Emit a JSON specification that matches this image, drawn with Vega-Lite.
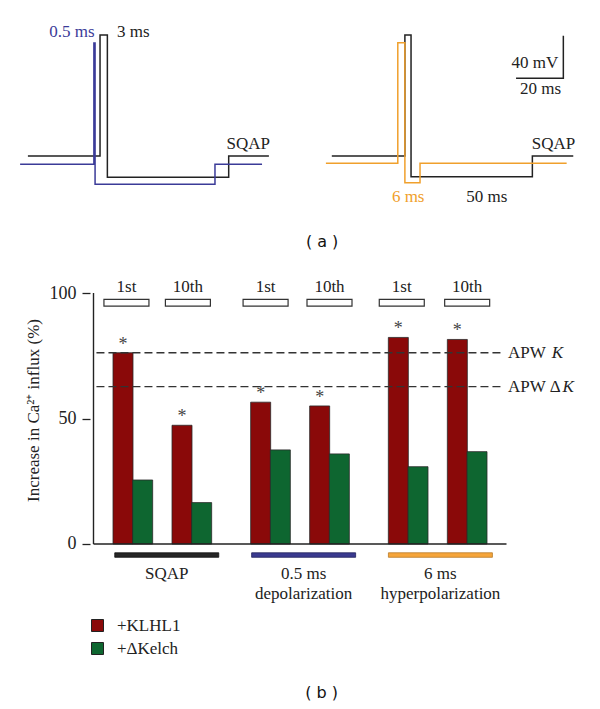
{
  "$schema": "https://vega.github.io/schema/vega-lite/v6.json",
  "background": "white",
  "padding": 0,
  "bounds": "flush",
  "spacing": 0,
  "resolve": {"scale": {"color": "independent"}, "legend": {"color": "independent"}},
  "config": {"view": {"stroke": null}, "font": "Liberation Serif"},
  "datasets": {
    "traces": [
      {"id": "L-SQAP", "trace": "SQAP", "i": 0, "t": 11.8, "mv": -70},
      {"id": "L-SQAP", "trace": "SQAP", "i": 1, "t": 42.3, "mv": -70},
      {"id": "L-SQAP", "trace": "SQAP", "i": 2, "t": 42.3, "mv": 43.6},
      {"id": "L-SQAP", "trace": "SQAP", "i": 3, "t": 45.4, "mv": 43.6},
      {"id": "L-SQAP", "trace": "SQAP", "i": 4, "t": 45.4, "mv": -90.0},
      {"id": "L-SQAP", "trace": "SQAP", "i": 5, "t": 96.7, "mv": -90.0},
      {"id": "L-SQAP", "trace": "SQAP", "i": 6, "t": 96.7, "mv": -70},
      {"id": "L-SQAP", "trace": "SQAP", "i": 7, "t": 113.7, "mv": -70},
      {"id": "R-SQAP", "trace": "SQAP", "i": 0, "t": 140.3, "mv": -70},
      {"id": "R-SQAP", "trace": "SQAP", "i": 1, "t": 171.2, "mv": -70},
      {"id": "R-SQAP", "trace": "SQAP", "i": 2, "t": 171.2, "mv": 43.6},
      {"id": "R-SQAP", "trace": "SQAP", "i": 3, "t": 173.8, "mv": 43.6},
      {"id": "R-SQAP", "trace": "SQAP", "i": 4, "t": 173.8, "mv": -89.4},
      {"id": "R-SQAP", "trace": "SQAP", "i": 5, "t": 225.1, "mv": -89.4},
      {"id": "R-SQAP", "trace": "SQAP", "i": 6, "t": 225.1, "mv": -70},
      {"id": "R-SQAP", "trace": "SQAP", "i": 7, "t": 242.4, "mv": -70},
      {"id": "scalebar", "trace": "scale", "i": 0, "t": 218.2, "mv": 3.0},
      {"id": "scalebar", "trace": "scale", "i": 1, "t": 238.2, "mv": 3.0},
      {"id": "scalebar", "trace": "scale", "i": 2, "t": 238.2, "mv": 43.0},
      {"id": "L-depol", "trace": "depol", "i": 0, "t": 8.5, "mv": -77.8},
      {"id": "L-depol", "trace": "depol", "i": 1, "t": 39.7, "mv": -77.8},
      {"id": "L-depol", "trace": "depol", "i": 2, "t": 39.7, "mv": 36.1},
      {"id": "L-depol", "trace": "depol", "i": 3, "t": 40.2, "mv": 36.1},
      {"id": "L-depol", "trace": "depol", "i": 4, "t": 40.2, "mv": -96.6},
      {"id": "L-depol", "trace": "depol", "i": 5, "t": 90.9, "mv": -96.6},
      {"id": "L-depol", "trace": "depol", "i": 6, "t": 90.9, "mv": -77.8},
      {"id": "L-depol", "trace": "depol", "i": 7, "t": 110.8, "mv": -77.8},
      {"id": "R-hyper", "trace": "hyper", "i": 0, "t": 137.8, "mv": -76.9},
      {"id": "R-hyper", "trace": "hyper", "i": 1, "t": 168.2, "mv": -76.9},
      {"id": "R-hyper", "trace": "hyper", "i": 2, "t": 168.2, "mv": 36.4},
      {"id": "R-hyper", "trace": "hyper", "i": 3, "t": 171.2, "mv": 36.4},
      {"id": "R-hyper", "trace": "hyper", "i": 4, "t": 171.2, "mv": -95.1},
      {"id": "R-hyper", "trace": "hyper", "i": 5, "t": 177.6, "mv": -95.1},
      {"id": "R-hyper", "trace": "hyper", "i": 6, "t": 177.6, "mv": -76.9},
      {"id": "R-hyper", "trace": "hyper", "i": 7, "t": 239.6, "mv": -76.9}
    ],
    "traceLabels": [
      {"label": "0.5 ms", "trace": "depol", "t": 30.4, "mv": 46.7},
      {"label": "3 ms", "trace": "SQAP", "t": 56.4, "mv": 46.7},
      {"label": "SQAP", "trace": "SQAP", "t": 105.0, "mv": -58.7},
      {"label": "6 ms", "trace": "hyper", "t": 172.6, "mv": -108.2},
      {"label": "50 ms", "trace": "SQAP", "t": 205.8, "mv": -108.2},
      {"label": "SQAP", "trace": "SQAP", "t": 234.0, "mv": -58.7},
      {"label": "40 mV", "trace": "scale", "t": 226.2, "mv": 17.0},
      {"label": "20 ms", "trace": "scale", "t": 228.6, "mv": -7.4}
    ],
    "bars": [
      {"cond": "SQAP", "pulse": "1st", "series": "+KLHL1", "pos": 1.5, "value": 76.2},
      {"cond": "SQAP", "pulse": "1st", "series": "+ΔKelch", "pos": 2.5, "value": 25.5},
      {"cond": "SQAP", "pulse": "10th", "series": "+KLHL1", "pos": 4.5, "value": 47.3},
      {"cond": "SQAP", "pulse": "10th", "series": "+ΔKelch", "pos": 5.5, "value": 16.5},
      {"cond": "depol", "pulse": "1st", "series": "+KLHL1", "pos": 8.5, "value": 56.5},
      {"cond": "depol", "pulse": "1st", "series": "+ΔKelch", "pos": 9.5, "value": 37.5},
      {"cond": "depol", "pulse": "10th", "series": "+KLHL1", "pos": 11.5, "value": 55.0},
      {"cond": "depol", "pulse": "10th", "series": "+ΔKelch", "pos": 12.5, "value": 35.9},
      {"cond": "hyper", "pulse": "1st", "series": "+KLHL1", "pos": 15.5, "value": 82.3},
      {"cond": "hyper", "pulse": "1st", "series": "+ΔKelch", "pos": 16.5, "value": 30.8},
      {"cond": "hyper", "pulse": "10th", "series": "+KLHL1", "pos": 18.5, "value": 81.5},
      {"cond": "hyper", "pulse": "10th", "series": "+ΔKelch", "pos": 19.5, "value": 36.8}
    ],
    "pulses": [
      {"cond": "SQAP", "pulse": "1st", "pos": 1.675},
      {"cond": "SQAP", "pulse": "10th", "pos": 4.8},
      {"cond": "depol", "pulse": "1st", "pos": 8.75},
      {"cond": "depol", "pulse": "10th", "pos": 12.0},
      {"cond": "hyper", "pulse": "1st", "pos": 15.675},
      {"cond": "hyper", "pulse": "10th", "pos": 19.0}
    ],
    "conds": [
      {"cond": "SQAP", "label": "SQAP", "pos": 3.725},
      {"cond": "depol", "label": "0.5 ms\ndepolarization", "pos": 10.685},
      {"cond": "hyper", "label": "6 ms\nhyperpolarization", "pos": 17.64}
    ],
    "apw": [
      {"line": "K", "value": 76.2},
      {"line": "ΔK", "value": 62.7}
    ]
  },
  "vconcat": [
    {
      "width": 600,
      "height": 260,
      "layer": [
        {
          "data": {"name": "traces"},
          "mark": {"type": "line", "strokeWidth": 1.5, "strokeJoin": "miter"},
          "encoding": {
            "x": {"field": "t", "type": "quantitative", "scale": {"domain": [0, 253.7], "nice": false, "zero": false}, "axis": null},
            "y": {"field": "mv", "type": "quantitative", "scale": {"domain": [-167.65, 76.48], "nice": false, "zero": false}, "axis": null},
            "color": {"field": "trace", "type": "nominal", "scale": {"domain": ["SQAP", "depol", "hyper", "scale"], "range": ["#222222", "#3b3b98", "#f0a02c", "#222222"]}, "legend": null},
            "detail": {"field": "id"},
            "order": {"field": "i", "type": "quantitative"}
          }
        },
        {
          "data": {"name": "traceLabels"},
          "mark": {"type": "text", "font": "Liberation Serif", "fontSize": 17, "align": "center", "baseline": "middle"},
          "encoding": {
            "x": {"field": "t", "type": "quantitative"},
            "y": {"field": "mv", "type": "quantitative"},
            "color": {"field": "trace", "type": "nominal"},
            "text": {"field": "label"}
          }
        },
        {
          "data": {"values": [{"caption": "( a )"}]},
          "mark": {"type": "text", "font": "DejaVu Sans", "fontSize": 16, "align": "center", "baseline": "middle", "color": "#111"},
          "encoding": {
            "x": {"datum": 136.2, "type": "quantitative"},
            "y": {"datum": -150.3, "type": "quantitative"},
            "text": {"field": "caption"}
          }
        }
      ]
    },
    {
      "width": 600,
      "height": 449,
      "layer": [
        {
          "data": {"name": "bars"},
          "mark": {"type": "bar", "orient": "vertical", "width": 20, "stroke": "#2a2a2a", "strokeWidth": 0.8},
          "encoding": {
            "x": {"field": "pos", "type": "quantitative", "scale": {"domain": [-4.5, 25.5], "nice": false, "zero": false}, "axis": null},
            "y": {
              "field": "value", "type": "quantitative", "stack": null,
              "scale": {"domain": [-65.74, 113.15], "nice": false, "zero": false},
              "axis": {
                "values": [0, 50, 100], "domain": false, "grid": false, "offset": -90,
                "tickSize": 8, "tickColor": "#222", "tickWidth": 1.3,
                "labelFont": "Liberation Serif", "labelFontSize": 18, "labelColor": "#222", "labelPadding": 6,
                "title": "Increase in Ca²⁺ influx (%)",
                "titleFont": "Liberation Serif", "titleFontSize": 17, "titleFontWeight": "normal", "titleColor": "#222",
                "titleX": -57, "titleY": 150, "titleAngle": -90, "titleAlign": "center", "titleBaseline": "middle"
              }
            },
            "color": {
              "field": "series", "type": "nominal",
              "scale": {"domain": ["+KLHL1", "+ΔKelch"], "range": ["#8a0909", "#0e6630"]},
              "legend": {
                "orient": "none", "legendX": 89, "legendY": 357, "title": null,
                "symbolType": "square", "symbolSize": 144, "symbolStrokeColor": "#222", "symbolStrokeWidth": 1,
                "labelFont": "Liberation Serif", "labelFontSize": 17, "labelColor": "#222", "labelOffset": 11, "rowPadding": 5
              }
            }
          }
        },
        {
          "data": {"name": "apw"},
          "mark": {"type": "rule", "stroke": "#333", "strokeWidth": 1.3, "strokeDash": [8, 4]},
          "encoding": {
            "x": {"datum": 0.15, "type": "quantitative"},
            "x2": {"datum": 20.85},
            "y": {"field": "value", "type": "quantitative"}
          }
        },
        {
          "data": {"name": "bars"},
          "transform": [{"filter": "datum.series == '+KLHL1'"}],
          "mark": {"type": "text", "font": "Liberation Serif", "fontSize": 18, "align": "center", "baseline": "alphabetic", "dy": -3, "color": "#444"},
          "encoding": {
            "x": {"field": "pos", "type": "quantitative"},
            "y": {"field": "value", "type": "quantitative"},
            "text": {"value": "*"}
          }
        },
        {
          "data": {"values": [{"k": 1}]},
          "mark": {"type": "rule", "stroke": "#222", "strokeWidth": 1.4},
          "encoding": {"x": {"datum": 0, "type": "quantitative"}, "y": {"datum": 0, "type": "quantitative"}, "y2": {"datum": 100}}
        },
        {
          "data": {"values": [{"k": 1}]},
          "mark": {"type": "rule", "stroke": "#222", "strokeWidth": 1.4},
          "encoding": {"x": {"datum": 0, "type": "quantitative"}, "x2": {"datum": 21}, "y": {"datum": 0, "type": "quantitative"}}
        },
        {
          "data": {"name": "pulses"},
          "mark": {"type": "bar", "orient": "vertical", "width": 45, "fill": "white", "stroke": "#333", "strokeWidth": 1.2},
          "encoding": {
            "x": {"field": "pos", "type": "quantitative"},
            "y": {"datum": 94.8, "type": "quantitative"},
            "y2": {"datum": 97.5}
          }
        },
        {
          "data": {"name": "pulses"},
          "mark": {"type": "text", "font": "Liberation Serif", "fontSize": 17, "align": "center", "baseline": "middle", "color": "#222"},
          "encoding": {
            "x": {"field": "pos", "type": "quantitative"},
            "y": {"datum": 102.4, "type": "quantitative"},
            "text": {"field": "pulse"}
          }
        },
        {
          "data": {"name": "conds"},
          "transform": [{"filter": "datum.cond == 'SQAP'"}],
          "mark": {"type": "bar", "orient": "vertical", "width": 104, "fill": "#262626", "stroke": "#111", "strokeWidth": 0.8},
          "encoding": {
            "x": {"field": "pos", "type": "quantitative"},
            "y": {"datum": -3.5, "type": "quantitative"},
            "y2": {"datum": -5.3}
          }
        },
        {
          "data": {"name": "conds"},
          "transform": [{"filter": "datum.cond == 'depol'"}],
          "mark": {"type": "bar", "orient": "vertical", "width": 104, "fill": "#3a3a8f", "stroke": "#22225a", "strokeWidth": 0.8},
          "encoding": {
            "x": {"field": "pos", "type": "quantitative"},
            "y": {"datum": -3.5, "type": "quantitative"},
            "y2": {"datum": -5.3}
          }
        },
        {
          "data": {"name": "conds"},
          "transform": [{"filter": "datum.cond == 'hyper'"}],
          "mark": {"type": "bar", "orient": "vertical", "width": 104, "fill": "#f6a53a", "stroke": "#b87a28", "strokeWidth": 0.8},
          "encoding": {
            "x": {"field": "pos", "type": "quantitative"},
            "y": {"datum": -3.5, "type": "quantitative"},
            "y2": {"datum": -5.3}
          }
        },
        {
          "data": {"name": "conds"},
          "mark": {"type": "text", "font": "Liberation Serif", "fontSize": 17, "align": "center", "baseline": "alphabetic", "lineBreak": "\n", "lineHeight": 20, "color": "#222"},
          "encoding": {
            "x": {"field": "pos", "type": "quantitative"},
            "y": {"datum": -13.75, "type": "quantitative"},
            "text": {"field": "label"}
          }
        },
        {
          "data": {"name": "apw"},
          "mark": {"type": "text", "font": "Liberation Serif", "fontSize": 17, "align": "left", "baseline": "middle", "color": "#222"},
          "encoding": {
            "x": {"datum": 21.08, "type": "quantitative"},
            "y": {"field": "value", "type": "quantitative"},
            "text": {"value": "APW"}
          }
        },
        {
          "data": {"name": "apw"},
          "transform": [{"filter": "datum.line == 'K'"}],
          "mark": {"type": "text", "font": "Liberation Serif", "fontSize": 17, "fontStyle": "italic", "align": "left", "baseline": "middle", "color": "#222"},
          "encoding": {
            "x": {"datum": 23.3, "type": "quantitative"},
            "y": {"field": "value", "type": "quantitative"},
            "text": {"value": "K"}
          }
        },
        {
          "data": {"name": "apw"},
          "transform": [{"filter": "datum.line == 'ΔK'"}],
          "mark": {"type": "text", "font": "Liberation Serif", "fontSize": 17, "align": "left", "baseline": "middle", "color": "#222"},
          "encoding": {
            "x": {"datum": 23.2, "type": "quantitative"},
            "y": {"field": "value", "type": "quantitative"},
            "text": {"value": "Δ"}
          }
        },
        {
          "data": {"name": "apw"},
          "transform": [{"filter": "datum.line == 'ΔK'"}],
          "mark": {"type": "text", "font": "Liberation Serif", "fontSize": 17, "fontStyle": "italic", "align": "left", "baseline": "middle", "color": "#222"},
          "encoding": {
            "x": {"datum": 23.85, "type": "quantitative"},
            "y": {"field": "value", "type": "quantitative"},
            "text": {"value": "K"}
          }
        },
        {
          "data": {"values": [{"caption": "( b )"}]},
          "mark": {"type": "text", "font": "DejaVu Sans", "fontSize": 16, "align": "center", "baseline": "middle", "color": "#111"},
          "encoding": {
            "x": {"datum": 11.6, "type": "quantitative"},
            "y": {"datum": -59.4, "type": "quantitative"},
            "text": {"field": "caption"}
          }
        }
      ]
    }
  ]
}
